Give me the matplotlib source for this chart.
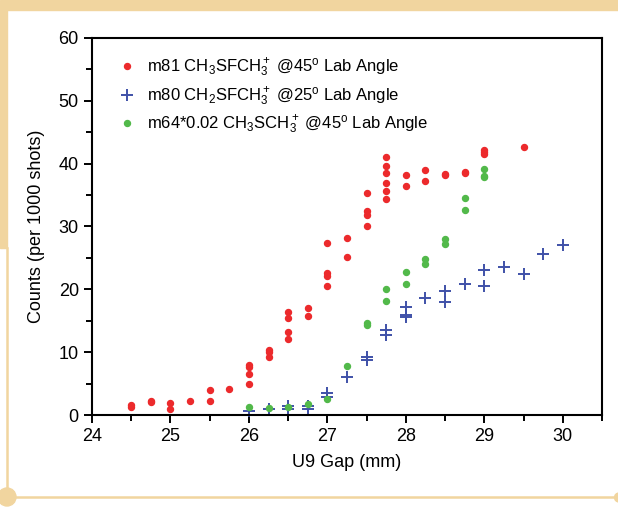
import matplotlib
matplotlib.use('Agg')
import matplotlib.pyplot as plt
from matplotlib.patches import Rectangle, Circle
from matplotlib.lines import Line2D
from matplotlib.ticker import MultipleLocator

plt.rcParams['font.family'] = ['Liberation Sans', 'DejaVu Sans']
plt.rcParams['mathtext.fontset'] = 'custom'
plt.rcParams['mathtext.rm'] = 'Liberation Sans'
plt.rcParams['mathtext.it'] = 'Liberation Sans:italic'

# ---- datos ----
x_m81 = [24.5, 24.5, 24.75, 24.75, 25, 25, 25.25, 25.5, 25.5, 25.75,
         26, 26, 26, 26, 26.25, 26.25, 26.25,
         26.5, 26.5, 26.5, 26.5, 26.75, 26.75,
         27, 27, 27, 27, 27.25, 27.25,
         27.5, 27.5, 27.5, 27.5,
         27.75, 27.75, 27.75, 27.75, 27.75, 27.75,
         28, 28, 28.25, 28.25, 28.5, 28.5, 28.75, 28.75,
         29, 29, 29, 29.5]
y_m81 = [1.2, 1.6, 2.0, 2.3, 1.0, 1.9, 2.2, 2.3, 3.9, 4.1,
         8.0, 7.6, 6.6, 5.0, 10.4, 10.0, 9.3,
         16.4, 15.5, 13.2, 12.1, 17.0, 15.8,
         27.4, 22.6, 22.2, 20.5, 28.2, 25.2,
         35.3, 32.5, 31.9, 30.0,
         41.0, 39.7, 38.5, 37.0, 35.7, 34.3,
         38.2, 36.5, 39.0, 37.3, 38.4, 38.2, 38.7, 38.5,
         42.1, 41.8, 41.5, 42.7]

x_m80 = [26, 26.25, 26.5, 26.5, 26.75, 26.75, 27, 27, 27.25,
         27.5, 27.5, 27.75, 27.75, 28, 28, 28, 28.25, 28.5, 28.5,
         28.75, 29, 29, 29.25, 29.5, 29.75, 30]
y_m80 = [0.7, 1.0, 1.4, 1.0, 1.5, 1.0, 3.5, 2.8, 6.0,
         9.2, 8.7, 13.6, 12.8, 17.2, 15.9, 15.6, 18.7, 19.7, 18.0,
         20.9, 23.0, 20.6, 23.6, 22.4, 25.6, 27.0]

x_m64 = [26, 26.25, 26.5, 26.75, 27, 27.25, 27.5, 27.5,
         27.75, 27.75, 28, 28, 28.25, 28.25, 28.5, 28.5,
         28.75, 28.75, 29, 29, 29]
y_m64 = [1.2, 1.1, 1.3, 1.7, 2.5, 7.8, 14.6, 14.4,
         20.1, 18.2, 22.8, 20.8, 24.8, 24.0, 28.0, 27.2,
         34.5, 32.7, 39.1, 38.1, 37.8]

etiquetas = [r'm81 CH$_3$SFCH$_3^+$ @45$^\mathrm{o}$ Lab Angle',
             r'm80 CH$_2$SFCH$_3^+$ @25$^\mathrm{o}$ Lab Angle',
             r'm64*0.02 CH$_3$SCH$_3^+$ @45$^\mathrm{o}$ Lab Angle']

rojo = '#ec2a2c'
azul = '#3f51a8'
verde = '#52b94a'
beige = '#f1d59f'

fig = plt.figure(figsize=(6.18, 5.07), dpi=100)
W, H = 618.0, 507.0

# marco decorativo
fig.patches.append(Rectangle((0, 1 - 10 / H), 1, 10 / H, transform=fig.transFigure,
                             color=beige, zorder=0))
fig.patches.append(Rectangle((0, 1 - 248 / H), 7 / W, 238 / H, transform=fig.transFigure,
                             color=beige, zorder=0))
fig.lines.append(Line2D([6.5 / W, 6.5 / W], [1 - 248 / H, 1 - 497 / H], transform=fig.transFigure,
                        color=beige, lw=1.8))
fig.lines.append(Line2D([6.5 / W, 1], [1 - 497 / H, 1 - 497 / H], transform=fig.transFigure,
                        color=beige, lw=1.8))
fig.patches.append(Circle((7, 10), 9, transform=None, color=beige, zorder=1))
fig.patches.append(Circle((619, 9.5), 4.5, transform=None, color=beige, zorder=1))

ax = fig.add_axes([92 / W, 1 - 415 / H, (602 - 92) / W, (415 - 38) / H])

ax.plot(x_m81, y_m81, 'o', color=rojo, ms=4.3, mec=rojo, label=etiquetas[0], clip_on=False)
ax.plot(x_m80, y_m80, '+', color=azul, ms=8, mew=1.4, label=etiquetas[1], clip_on=False)
ax.plot(x_m64, y_m64, 'o', color=verde, ms=4.3, mec=verde, label=etiquetas[2], clip_on=False)

ax.set_xlim(24, 30.5)
ax.set_ylim(0, 60)
ax.xaxis.set_major_locator(MultipleLocator(1))
ax.xaxis.set_minor_locator(MultipleLocator(0.5))
ax.yaxis.set_major_locator(MultipleLocator(10))
ax.yaxis.set_minor_locator(MultipleLocator(5))
ax.tick_params(which='both', direction='out', width=1.4, labelsize=13, top=False, right=False)
ax.tick_params(which='major', length=6)
ax.tick_params(which='minor', length=4)
for s in ax.spines.values():
    s.set_linewidth(1.5)

ax.set_xlabel('U9 Gap (mm)', fontsize=13, labelpad=6)
ax.set_ylabel('Counts (per 1000 shots)', fontsize=13, labelpad=10)

ax.legend(loc='upper left', frameon=False, fontsize=12, handletextpad=0.6,
          handlelength=1.2, labelspacing=0.35, borderaxespad=0.5, bbox_to_anchor=(0.02, 0.99))

fig.savefig('out.png', dpi=100)
